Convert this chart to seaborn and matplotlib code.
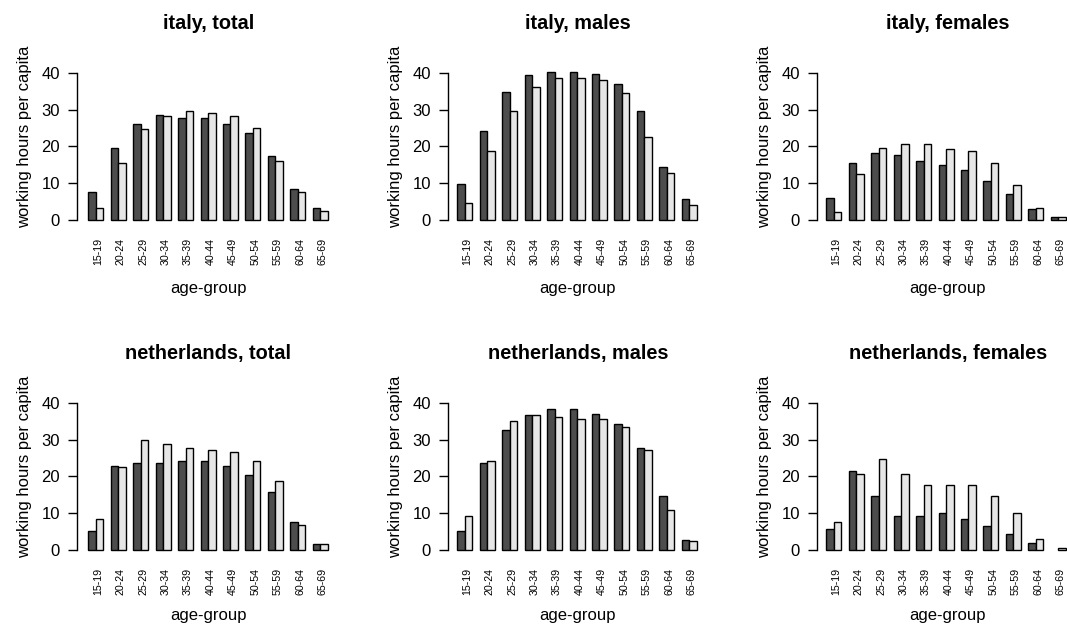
import numpy as np
import pandas as pd
import matplotlib
matplotlib.use("Agg")
import matplotlib.pyplot as plt
from matplotlib.transforms import ScaledTranslation
import seaborn as sns

# ---------------- data ----------------
age_groups = ["15-19", "20-24", "25-29", "30-34", "35-39", "40-44",
              "45-49", "50-54", "55-59", "60-64", "65-69"]
series_names = ["period 1", "period 2"]

italy_total_1 = [7.7, 19.6, 26.1, 28.6, 27.8, 27.8, 26.1, 23.6, 17.5, 8.5, 3.3]
italy_total_2 = [3.3, 15.5, 24.6, 28.2, 29.5, 29.0, 28.2, 24.9, 15.9, 7.7, 2.5]
italy_males_1 = [9.8, 24.2, 34.8, 39.4, 40.1, 40.1, 39.7, 36.8, 29.5, 14.4, 5.6]
italy_males_2 = [4.5, 18.8, 29.5, 36.0, 38.5, 38.5, 38.0, 34.4, 22.5, 12.7, 4.1]
italy_females_1 = [6.0, 15.5, 18.1, 17.6, 15.9, 14.8, 13.5, 10.6, 7.0, 2.9, 0.8]
italy_females_2 = [2.1, 12.4, 19.6, 20.5, 20.5, 19.3, 18.8, 15.5, 9.5, 3.3, 0.8]
nl_total_1 = [5.2, 22.8, 23.5, 23.5, 24.3, 24.3, 22.8, 20.3, 15.7, 7.6, 1.5]
nl_total_2 = [8.4, 22.4, 30.0, 28.9, 27.6, 27.2, 26.7, 24.3, 18.6, 6.9, 1.5]
nl_males_1 = [5.2, 23.5, 32.5, 36.6, 38.2, 38.2, 37.0, 34.1, 27.6, 14.6, 2.8]
nl_males_2 = [9.2, 24.3, 34.9, 36.6, 36.0, 35.7, 35.7, 33.3, 27.2, 10.9, 2.4]
nl_females_1 = [5.6, 21.4, 14.6, 9.3, 9.3, 10.0, 8.4, 6.4, 4.3, 2.0, np.nan]
nl_females_2 = [7.6, 20.6, 24.8, 20.6, 17.7, 17.7, 17.7, 14.6, 10.0, 3.1, 0.6]

panel_titles = ["italy, total", "italy, males", "italy, females",
                "netherlands, total", "netherlands, males", "netherlands, females"]
panel_data = [(italy_total_1, italy_total_2), (italy_males_1, italy_males_2),
              (italy_females_1, italy_females_2), (nl_total_1, nl_total_2),
              (nl_males_1, nl_males_2), (nl_females_1, nl_females_2)]
y_ticks = [0, 10, 20, 30, 40]
x_label = "age-group"
y_label = "working hours per capita"

# ---------------- style ----------------
sns.set_style("white")
plt.rcParams["font.family"] = ["Liberation Sans", "DejaVu Sans"]
plt.rcParams["text.color"] = "black"
plt.rcParams["axes.labelcolor"] = "black"
plt.rcParams["xtick.color"] = "black"
plt.rcParams["ytick.color"] = "black"

W, H = 1067, 626
fig = plt.figure(figsize=(W / 100, H / 100), dpi=100)

colors = ["#4d4d4d", "#e6e6e6"]
axis_x = [77.3, 448.3, 817.3]        # y-axis position (px)
first_bar = [88.3, 457.3, 826.3]     # left edge of first bar (px)
right_px = [339.0, 707.3, 1078.3]
row_top = [47.66, 377.66]
row_bot = [226.6, 556.6]
xlabel_base = [293.3, 620.0]
unit_px = 22.45                        # px per category step
ymin, ymax = -1.8, 46.8
label_shift = ScaledTranslation(2.5 / 100, 0, fig.dpi_scale_trans)

for i, (title, (s1, s2)) in enumerate(zip(panel_titles, panel_data)):
    r, c = divmod(i, 3)
    L, R = axis_x[c], right_px[c]
    T, B = row_top[r], row_bot[r]
    ax = fig.add_axes([L / W, 1 - B / H, (R - L) / W, (B - T) / H])
    df = pd.DataFrame({
        "age": age_groups * 2,
        "series": [series_names[0]] * len(age_groups) + [series_names[1]] * len(age_groups),
        "value": list(s1) + list(s2),
    })
    sns.barplot(data=df, x="age", y="value", hue="series", order=age_groups,
                hue_order=series_names, palette=colors, width=2 / 3, gap=0,
                edgecolor="black", linewidth=1.0, saturation=1, legend=False,
                ax=ax, err_kws={"linewidth": 0})
    x0 = -1 / 3 - (first_bar[c] - L) / unit_px
    ax.set_xlim(x0, x0 + (R - L) / unit_px)
    ax.set_ylim(ymin, ymax)
    ax.set_yticks(y_ticks)
    for sp in ["top", "right", "bottom"]:
        ax.spines[sp].set_visible(False)
    ax.spines["left"].set_bounds(0, 40)
    ax.spines["left"].set_linewidth(1.0)
    ax.spines["left"].set_color("black")
    ax.tick_params(axis="y", length=6.5, width=1.0, pad=6, labelsize=12,
                   direction="out", left=True, colors="black")
    ax.tick_params(axis="x", length=0, pad=8.2, labelsize=7.7, labelrotation=90,
                   colors="black")
    for lab in ax.get_xticklabels():
        lab.set_transform(lab.get_transform() + label_shift)
    ax.set_title(title, fontsize=14.3, fontweight="bold", pad=13.5, color="black")
    ax.set_xlabel(x_label, fontsize=12, va="baseline")
    ax.xaxis.set_label_coords(0.5, -(xlabel_base[r] - B) / (B - T))
    ax.set_ylabel(y_label, fontsize=12)
    ax.yaxis.set_label_coords(-45.6 / (R - L), 0.5)
    ax.patch.set_alpha(0)

fig.savefig("out.png", dpi=100)
